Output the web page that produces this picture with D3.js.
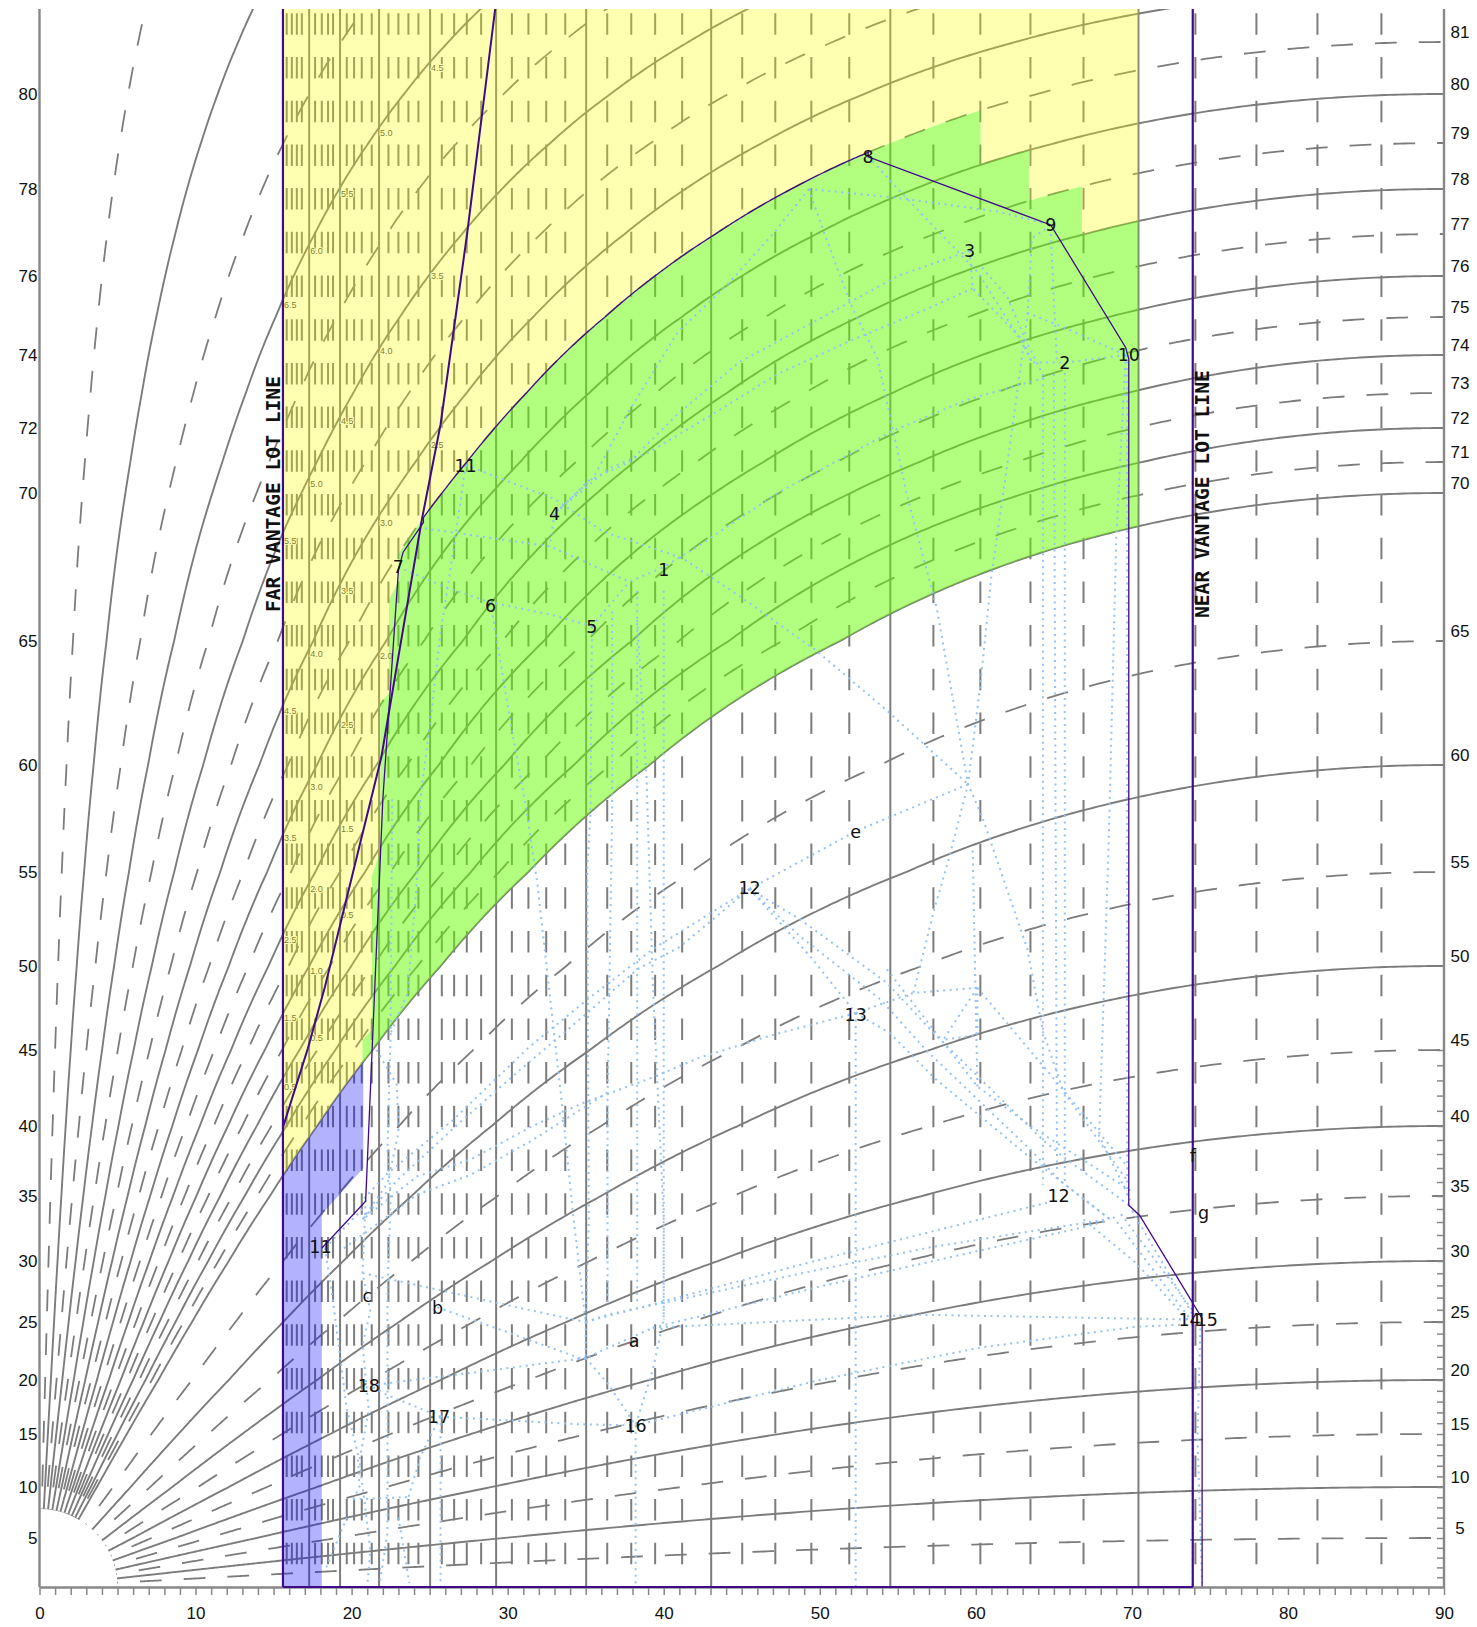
<!DOCTYPE html>
<html><head><meta charset="utf-8">
<script src="https://cdnjs.cloudflare.com/ajax/libs/d3/7.8.5/d3.min.js"></script>
<style>html,body{margin:0;padding:0;background:#fff}svg{display:block}</style></head>
<body><svg id="c" width="1477" height="1627"></svg>
<script>
// ---- axis tables ----
const altTicks=[0,5,10,15,20,25,30,35,40,45,50,55,60,65,70,71,72,73,74,75,76,77,78,79,80,81,82];
const altHeights=[0,49,100,153,207,265,326,391,461,537,621,715,822,946,1094,1125,1159,1194,1232,1270,1311,1353,1398,1444,1493,1545,1600];
const leftLabels=[5,10,15,20,25,30,35,40,45,50,55,60,65,70,72,74,76,78,80];
const rightLabels=[5,10,15,20,25,30,35,40,45,50,55,60,65,70,71,72,73,74,75,76,77,78,79,80,81];
const rightTicks=d3.range(1,46);
const bottomTicks=d3.range(0,91);
// ---- grid families ----
const solidCurves=[10,20,30,40,50,60,70,72,74,76,78,80,82,84,86,88];
const dashedCurves=[5,15,25,35,45,55,65,71,73,75,77,79,81,83,85,87,89];
const solidColumns=[17.28,19.26,21.76,25.03,29.26,35.03,43.04,54.52,70.42];
const dashedColumns=[15.84,16.17,16.49,16.81,17.66,18.09,18.49,18.81,19.69,20.16,20.65,21.29,22.36,23.0,23.64,24.28,25.78,26.57,27.38,28.3,30.27,31.33,32.47,33.69,36.38,37.92,39.45,41.18,45.03,47.15,49.46,51.89,57.28,60.29,63.5,66.9,74.07,77.98,81.89,85.99];
const farLot=15.6, nearLot=73.9;
// ---- shaded regions ----
const greenLeftSteps=[[20.7,44.2],[20.7,45.6],[21.3,46.2],[21.3,54.8],[21.85,56],[21.85,62.5],[22.4,62.9],[22.4,66.4],[23,67]];
const greenTopSteps=[[23,60.3,81],[60.3,63.4,80],[63.4,66.8,79],[66.8,70.42,78]];
const blueOutline=[[15.6,0],[18.09,0],[18.09,33.6],[20.75,37],[20.75,44.2]];
// ---- purple lines ----
const envelopeStart=[[18.1,31],[20.9,34.6],[22,58.4],[23,67.4],[23.3,68],[24.6,69]];
const envelopeEnd=[[53.1,78.7],[64.8,77.2],[69.6,74.2],[69.8,73.9],[69.8,34.3],[70.5,33.5],[74.5,25.3],[74.5,0]];
const boundLine=[[15.6,39.9],[17.2,45.1],[18.3,48.8],[20.5,56.2],[21.9,60.3],[23.3,65.4],[24.5,69.1],[25.7,72.1],[27.4,77],[29.2,81.6]];
// ---- labelled points ----
const pointLabels=[["1",40,67.4],["2",65.7,73.8],["3",59.6,76.6],["4",33,69.3],["5",35.4,65.5],["6",28.9,66.2],["7",23,67.5],["8",53.1,78.7],["9",64.8,77.2],["10",69.8,74],["11",27.3,70.9],["12",45.5,54.2],["13",52.3,47.1],["14",73.7,25.2],["15",74.8,25.2],["16",38.2,15.8],["17",25.6,16.6],["18",21.1,19.5],["11",18,31.1],["12",65.3,35],["a",38.1,23.4],["b",25.5,26.2],["c",21,27.2],["e",52.3,56.9],["f",73.9,37.9],["g",74.6,33.7]];
const smallLabels=[["4.5",25.03,80.5],["3.5",25.03,76],["2.5",25.03,71.5],["5.0",21.76,79.2],["4.0",21.76,74.1],["3.0",21.76,69],["2.0",21.76,64.4],["5.5",19.26,77.9],["4.5",19.26,72.2],["3.5",19.26,66.7],["2.5",19.26,61.6],["1.5",19.26,57],["0.5",19.26,52.7],["6.0",17.28,76.6],["5.0",17.28,70.3],["4.0",17.28,64.5],["3.0",17.28,59],["2.0",17.28,54.1],["1.0",17.28,49.7],["0.5",17.28,45.7],["6.5",15.6,75.3],["5.5",15.6,68.4],["4.5",15.6,62.2],["3.5",15.6,56.6],["2.5",15.6,51.4],["1.5",15.6,46.9],["0.5",15.6,42.6]];
// ---- dotted construction lines (azimuth, altitude) ----
const n8=[53.1,78.7],n9=[64.8,77.2],n10=[69.6,74],n3=[59.6,76.6],n2=[65.7,73.8],n1=[40,67.5],n4=[33,69.3],n5=[35.4,65.5],n6=[28.9,66.3],n7=[23,67.5],n11=[27.3,70.9],nA=[49.3,78],n12=[45.5,54.1],n13=[52.3,47.2],ne=[52.3,56.9],nX=[59.5,59.1],nQ=[60.1,48.7],nP=[56,48.4],nR=[69.8,34.3],nR2=[68.6,33.2],nT=[73.7,25.2],n15=[74.4,25],nU=[64.6,34.5],nS=[35,25],nS2=[35,21.9],na=[39.3,24.5],n16=[38.2,15.8],n17=[25.7,16.6],n18=[21.2,19.5],nb=[25.5,26.2],nc=[20.7,29],ll=[20.7,34.7],ll2=[20.7,33.2];
const dottedUpper=[
 [n8,[53.4,78.6],[55,78],[57.2,77.2],[60.1,76.1],[63,74.3],[63.6,73.8]],
 [nA,[55,77.8],[61.4,77.5],n9],
 [nA,[47,77],[44.1,75.8],[40.9,74.6],[37.8,72.5],[35.5,70.5],n4],
 [nA,[50.2,77.1],[52,75.3],[53.7,73.9],[55.6,69.9],[57.5,66.1],nX,[60.4,57.6],[63.3,50.9],[64.3,46.1],[65.6,42.3],[69.7,36.1]],
 [n11,[33,69.8],[36.1,68.7],[41.2,67.8],[44.9,66.5],[49.8,64.6],[54.3,62.2],nX],
 [n9,[63.6,76.9],[63.3,75],[62.1,71.2],[61,67.2],[60.3,63.3],nX,[58.3,55.7],[57.3,52.9],nP],
 [n3,[59.8,75.7],[63,74.4],[63.6,73.8]],
 [[60.4,76.2],[62,75.5],[63.3,74.3],[64.4,73.4]],
 [[63.3,75.1],[65.8,74.7],n10],
 [n10,n2,[63.6,73.8]],
 [[64.8,77],[65.2,73.8]],
 [n3,[55,76],[49.3,74.8],[44.8,73.8],[40.9,72.4],[37.8,71],[35.2,70.4],n4],
 [[59.8,75.7],[56.9,75.2],[52.1,74.4],[47.3,73.5],[42.8,72.3],[39.1,71.3],[36.5,70.8],n4],
 [[64.4,73.4],[59.4,72.8],[54.6,71.9],[47.3,70],[42.2,68.2],n1],
 [n7,[26.1,66.8],n6,[32.7,65.9],n5],
 [[24.7,68.8],[32.7,68.2],[37.8,67],n1],
 [n5,[37.8,67]],
 [n4,[32.7,68.2]],
 [n11,[27,69.8],[26.5,68],[25.7,65.3],[25.2,62.6],[24.8,60.6],[24.4,58.4],[24.2,54.7],[23.6,48.4],[22.5,46]],
 [n6,[30.3,61.3],[31.2,57.9],[31.9,54.4],[33.4,42.2],[34.2,33.5],nS],
 [n5,[35.3,57.6],[35.1,55.2],[35.2,33.2],nS],
 [[36.7,66],[36.7,58.1],[36.4,41.7],[36.4,26.6]],
 [[38.3,66.7],[38.3,26.6]],
 [[40,66.7],[40,25.2]],
 [[38.3,65.7],[38.9,59.4],[39.3,49],[40,33.2],[40,25.2],[39.3,20.9],n16]
];
const dottedMiddle=[
 [n12,ne,nX],
 [n13,nP,nQ],
 [nQ,[57.9,45.6],[60.1,45.9],nQ],
 [nQ,[69.8,37]],
 [[59.8,56],[60.1,42.6]],
 [n12,[48.7,52.5],[54.3,49],[57.3,46],[64.3,39],[65.6,37.8],nR],
 [n12,[48.7,51.6],[53.9,48],[56.8,45],[63.5,38.3],[65.4,36.1],nR2],
 [n12,[49.4,50.5],n13],
 [n13,[54.5,46],[57.3,43.2],[63.3,37.9],nR2],
 [[54.3,49.8],[60.1,42.6],[63.5,40],[69.9,35.4]],
 [nR,[73.9,25.6]],
 [[68.8,33.4],[73.7,25.3]],
 [[66.9,33.2],[70.3,29.8],[73.7,25]],
 [[69.3,33.6],[74.1,25.6]],
 [[64.3,73.4],[64.3,35.8]],
 [[65,73.5],[65.2,36.9]],
 [[65.7,73.7],[65.7,35.8]],
 [n10,[69,68.5],[68.5,56],[67.9,39.3],[69.9,34.7]],
 [[69.7,74],[69.7,34.7]],
 [n12,[39.3,50.9],[35.1,48],[31.4,45.2],[26.5,40.4],[22.3,36.6],ll],
 [n12,[41,51],[38.3,49.8],[35.1,47.2],[30.8,43.7],[26.9,40.2],[22.9,36.1],ll2],
 [n13,[47,45.9],[42.3,44.5],[39.3,43.2],[34.8,41.5],[31.6,40],[27.6,37.6],[24.2,36.4],ll2],
 [[36.4,42.2],[31.6,39],[27.6,36.5],[24.2,35.1],[19.3,30.8]],
 [[18.3,31],[20.7,34]],
 [[21.6,45],[22.9,42.7],[23,39.5],[22.3,35.9],ll2]
];
const dottedLower=[
 [nS,[50,30.1],nU],
 [nS,[36.4,25.6],[50,29.3],[57.3,31.1],[68.4,33.2]],
 [na,[50,27.9],[66.9,32.6],[68.4,33.1]],
 [na,[56.2,25.6],nT],
 [n16,[50,20],[60.3,22.8],[70.3,24.6],[73.9,24.8]],
 [n15,[74.2,14.8],[74.5,0.4]],
 [[73.9,24.8],[73.9,0]],
 [n13,[52.3,0]],
 [nc,[25.7,27.6],[30.6,26.2],nS],
 [nb,[34.6,21.9],nS2],
 [nS,nS2,na],
 [nS2,[29.3,20.9],n18],
 [n17,[34.6,15.9],n16],
 [nS2,[36.4,19.7],n16],
 [n16,[38.2,0]],
 [n17,[22.3,18.6],n18],
 [n17,[25.7,0]],
 [n17,[24.9,14.4],[24.4,12.8],[23.6,8.8]],
 [[20.1,8.8],[23.6,9]],
 [[20.9,34.7],nc,[21.2,25.9],[20.7,23],[21.1,17.2],[20.5,12.5],[21.2,3.8],[21,0]],
 [[22.6,58.4],[22.5,46],[22.3,38.3],[22.5,34.7],[22.3,27.4],[22.3,19.1],[22.3,5.5],[21.8,0.4]],
 [[18.3,31],[18.8,26.8],[19.4,20.6],[19.7,17.2],[20.4,13.2],[20.5,10],[20.1,8.8]],
 [[19.7,7],[18.3,1.7]],
 [[23,7],[23.7,0.4]]
];

// ---- scales ----
const x=d3.scaleLinear().domain([0,90]).range([39.5,1444]);
const baseY=1587, topY=9;
const y=d3.scaleLinear().domain(altTicks).range(altHeights.map(h=>baseY-h));
const rad=Math.PI/180;
const line=d3.line().x(d=>x(d[0])).y(d=>y(d[1]));
// The grid is a projection: a great circle of inclination v reaches altitude atan(tan v * sin az)
const onCurve=(v,az)=>[az,Math.atan(Math.tan(v*rad)*Math.sin(az*rad))/rad];
function curvePts(v,a0,a1){
  const N=700,p=[];
  for(let i=0;i<=N;i++){p.push(onCurve(v,a0+(a1-a0)*Math.pow(i/N,2.5)));}
  return p;
}
const svg=d3.select("#c");
const defs=svg.append("defs");
defs.append("clipPath").attr("id","plot").append("rect").attr("x",x(0)).attr("y",topY).attr("width",x(90)-x(0)).attr("height",baseY-topY);
const G=svg.append("g").attr("clip-path","url(#plot)");
const grey="#7c7c7c";
// vertical columns
G.selectAll(".dc").data(dashedColumns).join("line").attr("x1",d=>x(d)).attr("x2",d=>x(d)).attr("y1",13.3).attr("y2",baseY-2)
 .attr("stroke",grey).attr("stroke-width",2).attr("stroke-dasharray","21.5 22.2");
G.selectAll(".sc").data(solidColumns).join("line").attr("x1",d=>x(d)).attr("x2",d=>x(d)).attr("y1",topY).attr("y2",baseY)
 .attr("stroke",grey).attr("stroke-width",2);
// curves
G.selectAll(".ds").data(dashedCurves).join("path").attr("d",v=>line(curvePts(v,0,90))).attr("fill","none")
 .attr("stroke",grey).attr("stroke-width",1.8).attr("stroke-dasharray","21.8 22").attr("stroke-dashoffset",30.8);
G.selectAll(".ss").data(solidCurves).join("path").attr("d",v=>line(curvePts(v,0,90))).attr("fill","none")
 .attr("stroke",grey).attr("stroke-width",1.9);
// hub
G.append("circle").attr("cx",x(0)).attr("cy",baseY).attr("r",78).attr("fill","#fff");
// small values under the tint
G.selectAll(".sm").data(smallLabels).join("text").attr("x",d=>x(d[1])+1).attr("y",d=>y(d[2])).attr("dy",".35em")
 .text(d=>d[0]).attr("font-family","'Liberation Sans',Arial,sans-serif").attr("font-size",9).attr("fill","#484848")
 .attr("stroke","#fff").attr("stroke-width",2).attr("paint-order","stroke");
// regions
const v70a=(a,b)=>curvePts(70,a,b);
const greenPts=[...greenLeftSteps];
greenTopSteps.forEach(s=>greenPts.push(...curvePts(s[2],s[0],s[1])));
greenPts.push(...v70a(20.7,70.42).reverse());
const outer=[...v70a(15.6,70.42),[70.42,82],[15.6,82]];
G.append("path").attr("d",line(outer)+"Z"+line(greenPts)+"Z").attr("fill","#ffff00").attr("fill-opacity",.3).attr("fill-rule","evenodd");
G.append("path").attr("d",line(greenPts)+"Z").attr("fill","#66ff00").attr("fill-opacity",.5);
G.append("path").attr("d",line([...blueOutline,...v70a(15.6,20.75).reverse()])+"Z").attr("fill","#0000ff").attr("fill-opacity",.3);
// dotted network
[dottedUpper,dottedMiddle,dottedLower].forEach(set=>{
 G.append("g").selectAll("path").data(set).join("path").attr("d",line).attr("fill","none")
  .attr("stroke","#94c2f2").attr("stroke-width",2).attr("stroke-dasharray","2 4.5");
});
// purple
const purple="#3f0a8c";
G.append("path").attr("d",line(boundLine)).attr("fill","none").attr("stroke",purple).attr("stroke-width",2);
const envelope=[...envelopeStart,...curvePts(81,24.6,53.1),...envelopeEnd];
G.append("path").attr("d",line(envelope)).attr("fill","none").attr("stroke",purple).attr("stroke-width",1.3);
// axes
const axisFont="'Liberation Sans',Arial,sans-serif";
function styleAxis(g){g.selectAll("path.domain").attr("stroke","#888").attr("stroke-width",2.4);g.selectAll(".tick line").attr("stroke","#888").attr("stroke-width",1.5);g.selectAll("text").attr("font-family",axisFont).attr("font-size",17).attr("fill","#111");}
const yAxisScale=y.copy();
svg.append("g").attr("transform",`translate(0,${baseY})`).call(d3.axisBottom(x).tickValues(bottomTicks).tickSize(8).tickSizeOuter(0).tickPadding(12).tickFormat(d=>d%10===0?d:"")).call(styleAxis);
svg.append("g").attr("transform",`translate(${x(0)},0)`).call(d3.axisLeft(yAxisScale).tickValues(leftLabels).tickSize(0).tickSizeOuter(0).tickPadding(2)).call(styleAxis).call(g=>g.select("path.domain").attr("d",`M0,${topY}V${baseY}`));
svg.append("g").attr("transform",`translate(${x(90)},0)`).call(d3.axisRight(yAxisScale).tickValues(rightTicks).tickSize(-7).tickSizeOuter(0).tickFormat("")).call(styleAxis).call(g=>g.select("path.domain").attr("d",`M0,${topY}V${baseY}`));
svg.append("g").selectAll("text").data(rightLabels).join("text").attr("x",x(90)+16).attr("y",d=>y(d)-10).attr("dy",".35em").attr("text-anchor","middle")
 .attr("font-family",axisFont).attr("font-size",17).attr("fill","#111").text(d=>d);
// lot lines on top
svg.append("line").attr("x1",x(farLot)).attr("x2",x(farLot)).attr("y1",topY).attr("y2",baseY).attr("stroke",purple).attr("stroke-width",2.2);
svg.append("line").attr("x1",x(nearLot)).attr("x2",x(nearLot)).attr("y1",topY).attr("y2",baseY).attr("stroke",purple).attr("stroke-width",2.2);
svg.append("line").attr("x1",x(farLot)).attr("x2",x(nearLot)).attr("y1",baseY).attr("y2",baseY).attr("stroke",purple).attr("stroke-width",2.2);
// point labels
svg.append("g").selectAll("text").data(pointLabels).join("text").attr("x",d=>x(d[1])).attr("y",d=>y(d[2])).attr("dy",".37em").attr("text-anchor","middle")
 .attr("font-family","'DejaVu Sans',Verdana,sans-serif").attr("font-size",17.5).attr("fill","#111").text(d=>d[0]);
// vertical captions
const cap=(t,px,py)=>svg.append("text").attr("transform",`translate(${px},${py}) rotate(-90)`).text(t)
 .attr("font-family","'DejaVu Sans Mono',monospace").attr("font-weight","bold").attr("font-size",19.6).attr("fill","#111");
cap("FAR VANTAGE LOT LINE",x(farLot)-2.5,612);
cap("NEAR VANTAGE LOT LINE",x(nearLot)+16.5,618);
</script></body></html>
